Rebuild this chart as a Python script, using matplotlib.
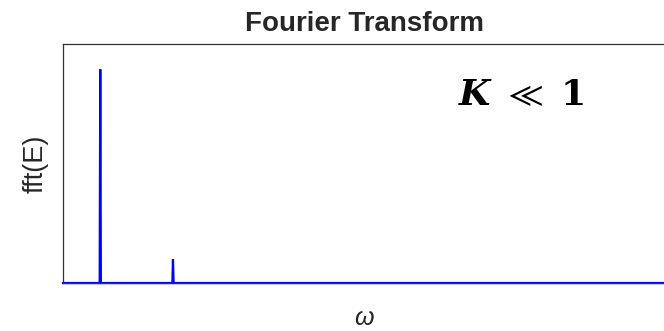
import matplotlib
matplotlib.use("Agg")
import matplotlib.pyplot as plt

plt.rcParams['font.family'] = ['Liberation Sans', 'DejaVu Sans']
plt.rcParams['mathtext.fontset'] = 'dejavuserif'

# spectrum (omega on a 0..100 scale, amplitude 0..1)
omega = [0, 6.1, 6.2, 6.3, 18.2, 18.3, 18.4, 100]
amp = [0, 0, 0.894, 0, 0, 0.10, 0, 0]

title = "Fourier Transform"
ylabel = "fft(E)"
xlabel = "ω"
note = r"$\mathbfit{K}\ \ll\ \mathbf{1}$"

fig = plt.figure(figsize=(6.64, 3.31), dpi=100)
ax = fig.add_axes([0.0949, 0.145, 0.905, 0.722])

ax.plot(omega, amp, color='#0000ff', linewidth=1.6, solid_joinstyle='miter', clip_on=False)
ax.set_xlim(0, 100)
ax.set_ylim(0, 1)
ax.set_xticks([])
ax.set_yticks([])

for side in ['left', 'top', 'bottom']:
    ax.spines[side].set_color('#333333')
    ax.spines[side].set_linewidth(0.9)
ax.spines['right'].set_visible(False)

fig.text(364 / 664, 1 - 24 / 331, title, ha='center', va='center',
         fontsize=20, fontweight='bold', color='#262626')
fig.text(36 / 664, 1 - 164 / 331, ylabel, ha='center', va='center',
         rotation=90, fontsize=19.5, color='#262626')
fig.text(364 / 664, 1 - 318 / 331, xlabel, ha='center', va='center',
         fontsize=18, style='italic', color='#262626')
ax.text(521 / 664, 1 - 96 / 331, note, transform=fig.transFigure,
        ha='center', va='center', fontsize=26, color='black')

fig.savefig("out.png", dpi=100)
